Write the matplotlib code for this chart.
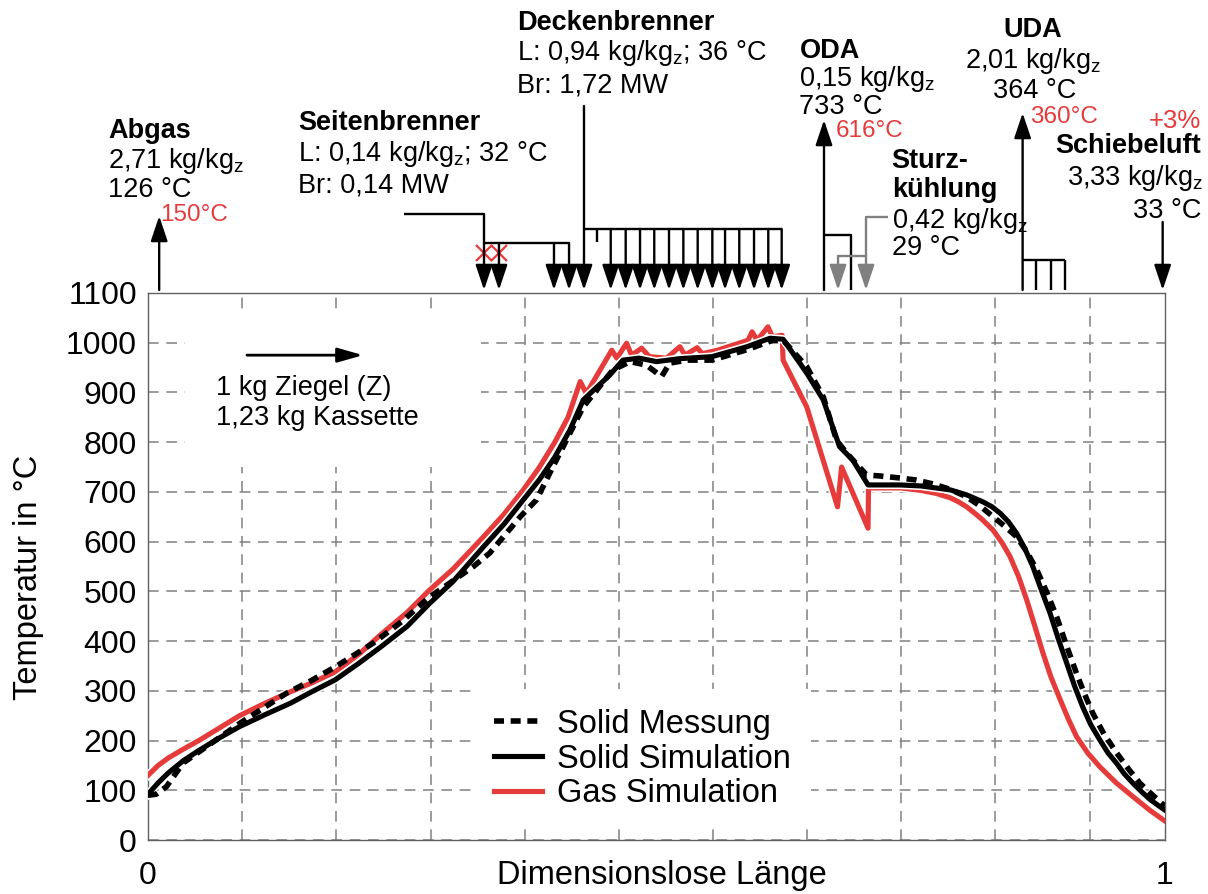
import numpy as np
import matplotlib.pyplot as plt
import matplotlib.patheffects as pe
from matplotlib.patches import Rectangle

plt.rcParams['font.family'] = ['Liberation Sans', 'DejaVu Sans']
plt.rcParams['mathtext.default'] = 'regular'

# --- temperature profiles along the kiln (dimensionless length, °C) ---
gas_x = [0, 0.01, 0.02, 0.035, 0.05, 0.07, 0.09, 0.115, 0.14, 0.16, 0.184, 0.207,
         0.23, 0.255, 0.277, 0.30, 0.33, 0.35, 0.369, 0.385, 0.40, 0.413,
         0.425, 0.431, 0.456, 0.461, 0.4706, 0.4755, 0.4854, 0.493, 0.51, 0.523,
         0.528, 0.54, 0.545, 0.56, 0.575, 0.59, 0.594, 0.599, 0.6096, 0.614,
         0.6235, 0.6245, 0.6477, 0.678, 0.682, 0.708, 0.7085, 0.74, 0.76, 0.775,
         0.789, 0.797, 0.805, 0.813, 0.82, 0.831, 0.84, 0.8476, 0.856, 0.864,
         0.872, 0.88, 0.888, 0.897, 0.905, 0.913, 0.924, 0.936, 0.952, 0.9686,
         0.985, 1.0]
gas_t = [130, 150, 165, 183, 200, 225, 250, 275, 298, 315, 338, 373,
         415, 458, 503, 545, 610, 655, 704, 750, 800, 850,
         922, 898, 985, 969, 999, 975, 989, 972, 969, 992,
         975, 990, 978, 985, 995, 1005, 1022, 1005, 1032, 1012,
         1015, 965, 871, 670, 750, 627, 708, 708, 703, 697,
         688, 680, 670, 657, 645, 623, 597, 570, 530, 483,
         430, 376, 327, 282, 243, 208, 175, 147, 115, 87,
         60, 38]

sim_x = [0, 0.01, 0.02, 0.035, 0.05, 0.07, 0.09, 0.115, 0.14, 0.16, 0.184, 0.207,
         0.23, 0.255, 0.277, 0.30, 0.33, 0.35, 0.369, 0.385, 0.40, 0.415,
         0.428, 0.454, 0.467, 0.483, 0.50, 0.523, 0.5546, 0.589, 0.6116, 0.6245,
         0.6477, 0.664, 0.680, 0.693, 0.708, 0.7394, 0.76, 0.789, 0.805, 0.821,
         0.83, 0.838, 0.846, 0.854, 0.862, 0.870, 0.878, 0.887, 0.895, 0.9033,
         0.911, 0.919, 0.927, 0.936, 0.944, 0.9525, 0.96, 0.9686, 0.977, 0.985,
         0.993, 1.0]
sim_t = [92, 115, 135, 160, 180, 205, 228, 252, 275, 297, 322, 355,
         390, 430, 476, 520, 590, 635, 684, 725, 770, 825,
         885, 935, 965, 969, 962, 968, 972, 992, 1009, 1007,
         939, 885, 791, 764, 714, 714, 712, 704, 694, 680,
         670, 657, 640, 617, 587, 550, 505, 456, 405, 356,
         310, 268, 232, 201, 175, 154, 133, 114, 97, 82,
         70, 60]

mess_x = [0, 0.008, 0.018, 0.0346, 0.0577, 0.0905, 0.136, 0.16, 0.184, 0.2215,
          0.25, 0.277, 0.287, 0.32, 0.336, 0.366, 0.382, 0.398, 0.408, 0.418,
          0.428, 0.457, 0.474, 0.49, 0.505, 0.513, 0.53, 0.5546, 0.589, 0.6145,
          0.6245, 0.6477, 0.664, 0.677, 0.687, 0.7066, 0.72, 0.7394, 0.755,
          0.772, 0.789, 0.805, 0.818, 0.831, 0.843, 0.854, 0.864, 0.874, 0.884,
          0.8935, 0.903, 0.913, 0.921, 0.929, 0.94, 0.9525, 0.964, 0.9754,
          0.988, 1.0]
mess_t = [90, 92, 107, 155, 188, 235, 295, 320, 348, 396,
          440, 489, 503, 550, 577, 650, 684, 750, 790, 831,
          871, 945, 962, 955, 932, 959, 965, 965, 986, 1005,
          1005, 952, 891, 804, 778, 734, 732, 728, 724,
          716, 705, 690, 672, 650, 630, 610, 580, 543, 497,
          449, 392, 335, 293, 255, 213, 175, 143, 114,
          90, 68]

# --- burner / air positions along the kiln ---
abgas_x = 0.011
seiten_x = [0.3304, 0.3451, 0.3992, 0.4140]
seiten_off = [0.3304, 0.3451]
decken_main_x = 0.4287
decken_stub_x = 0.4415
decken_x = [0.455, 0.4697, 0.4838, 0.4978, 0.5123, 0.5264, 0.5405, 0.5549,
            0.5674, 0.5814, 0.5959, 0.6099, 0.6231]
oda_x = [0.6647, 0.6913]
sturz_x = [0.6785, 0.706]
uda_x = [0.86, 0.8736, 0.8875, 0.9013]
schiebe_x = 0.9977

grid_step = 1 / 10.8
red = '#e63b3b'
gray = '#808080'

fig = plt.figure(figsize=(12.08, 8.94), dpi=100)
ax = fig.add_axes([148 / 1208, 1 - 840 / 894, 1017 / 1208, 547 / 894])

ax.set_xlim(0, 1)
ax.set_ylim(0, 1100)
ax.set_xticks([0, 1])
ax.set_xticklabels(['0', '1'])
ax.set_xticks(np.arange(1, 11) * grid_step, minor=True)
ax.set_yticks(np.arange(0, 1101, 100))
ax.tick_params(axis='both', which='both', length=0, labelsize=23)
ax.tick_params(axis='x', pad=15)
ax.tick_params(axis='y', pad=8)
ax.grid(True, which='minor', axis='x', color=gray, lw=1.1, ls=(0, (7, 5)))
ax.grid(True, which='major', axis='y', color=gray, lw=1.1, ls=(0, (7, 5)))
ax.set_axisbelow(True)
for s in ax.spines.values():
    s.set_color('#606060')
    s.set_linewidth(1.0)

ax.set_xlabel('Dimensionslose Länge', fontsize=23.5)
ax.xaxis.set_label_coords(0.505, -0.037)
ax.set_ylabel('Temperatur in °C', fontsize=23.5)
ax.yaxis.set_label_coords(-0.102, 0.48)

# white box behind the brick note
ax.add_patch(Rectangle((0.036, 750), 0.291, 310, facecolor='white',
                       edgecolor='none', zorder=1.5))

halo = [pe.Stroke(linewidth=6, foreground='white'), pe.Normal()]
l_gas, = ax.plot(gas_x, gas_t, color=red, lw=3.7, zorder=3,
                 path_effects=halo)
l_sim, = ax.plot(sim_x, sim_t, color='black', lw=3.7, zorder=4,
                 path_effects=halo)
l_mess, = ax.plot(mess_x, mess_t, color='black', lw=4, ls=(0, (1.8, 1.2)),
                  zorder=5)

leg = ax.legend([l_mess, l_sim, l_gas],
                ['Solid Messung', 'Solid Simulation', 'Gas Simulation'],
                loc='center', bbox_to_anchor=(0.486, 0.148), fontsize=23.5,
                frameon=True, fancybox=False, framealpha=1, edgecolor='none',
                facecolor='white', handlelength=1.5, handletextpad=0.45,
                labelspacing=0.12, borderpad=0.6, borderaxespad=0)
leg.set_zorder(6)

ax.annotate('', xy=(0.2114, 975), xytext=(0.0973, 975),
            arrowprops=dict(arrowstyle='-|>,head_length=1.4,head_width=0.4',
                            color='black', lw=2, shrinkA=0, shrinkB=0,
                            mutation_scale=11), zorder=3)
ax.text(0.0669, 895, '1 kg Ziegel (Z)', fontsize=19.5, zorder=3)
ax.text(0.0669, 834, '1,23 kg Kassette', fontsize=19.5, zorder=3)

# --- kiln schematic above the plot (y in pixels from the top) ---
top = fig.add_axes([148 / 1208, 1 - 293 / 894, 1017 / 1208, 293 / 894])
top.set_xlim(0, 1)
top.set_ylim(293, 0)
top.axis('off')


def arrow(x, y0, y1, color='black'):
    top.annotate('', xy=(x, y1), xytext=(x, y0), annotation_clip=False,
                 arrowprops=dict(arrowstyle='-|>,head_length=1.4,head_width=0.47',
                                 color=color, lw=1.7, shrinkA=0, shrinkB=0,
                                 mutation_scale=11))


def line(xs, ys, color='black'):
    top.plot(xs, ys, color=color, lw=1.7, clip_on=False, solid_capstyle='butt')


fs = 19.5
kgz = r'kg/kg$_{z}$'

# Abgas
arrow(abgas_x, 290, 216)
top.text(-0.0393, 138, 'Abgas', fontsize=fs, weight='bold')
top.text(-0.0393, 168, '2,71 ' + kgz, fontsize=fs)
top.text(-0.0393, 197, '126 °C', fontsize=fs)
top.text(0.0118, 221, '150°C', fontsize=fs - 2, color=red)

# Seitenbrenner
line([0.2517, seiten_x[0], seiten_x[0]], [214, 214, 243])
line([seiten_x[0], seiten_x[-1]], [243, 243])
for x in seiten_x:
    arrow(x, 243, 290)
top.plot(seiten_off, [253, 253], ls='none', marker='x', ms=11, mew=1.6,
         color=red, clip_on=False)
top.text(0.1475, 130, 'Seitenbrenner', fontsize=fs, weight='bold')
top.text(0.1475, 161, 'L: 0,14 ' + kgz + '; 32 °C', fontsize=fs)
top.text(0.1475, 192, 'Br: 0,14 MW', fontsize=fs)

# Deckenbrenner
arrow(decken_main_x, 106, 290)
line([decken_main_x, decken_x[-1]], [229, 229])
line([decken_stub_x, decken_stub_x], [229, 242])
for x in decken_x:
    arrow(x, 229, 290)
top.text(0.3628, 30, 'Deckenbrenner', fontsize=fs, weight='bold')
top.text(0.3628, 60, 'L: 0,94 ' + kgz + '; 36 °C', fontsize=fs)
top.text(0.3628, 92, 'Br: 1,72 MW', fontsize=fs)

# ODA
arrow(oda_x[0], 290, 120)
line([oda_x[0], oda_x[1], oda_x[1]], [235, 235, 290])
top.text(0.6406, 58, 'ODA', fontsize=fs, weight='bold')
top.text(0.6406, 86, '0,15 ' + kgz, fontsize=fs)
top.text(0.6406, 114, '733 °C', fontsize=fs)
top.text(0.6765, 137, '616°C', fontsize=fs - 2, color=red)

# Sturzkühlung
line([0.7276, sturz_x[1], sturz_x[1]], [217, 217, 256], color=gray)
line([sturz_x[0], sturz_x[1]], [256, 256], color=gray)
for x in sturz_x:
    arrow(x, 256, 290, color=gray)
top.text(0.7312, 168, 'Sturz-', fontsize=fs, weight='bold')
top.text(0.7312, 197, 'kühlung', fontsize=fs, weight='bold')
top.text(0.7312, 228, '0,42 ' + kgz, fontsize=fs)
top.text(0.7312, 255, '29 °C', fontsize=fs)

# UDA
arrow(uda_x[0], 290, 113)
line([uda_x[0], uda_x[-1]], [260, 260])
for x in uda_x[1:]:
    line([x, x], [260, 290])
top.text(0.8702, 37, 'UDA', fontsize=fs, weight='bold', ha='center')
top.text(0.8702, 68, '2,01 ' + kgz, fontsize=fs, ha='center')
top.text(0.8722, 98, '364 °C', fontsize=fs, ha='center')
top.text(0.8677, 123, '360°C', fontsize=fs - 2, color=red)

# Schiebeluft
arrow(schiebe_x, 222, 290)
top.text(1.0354, 128, '+3%', fontsize=fs - 1, color=red, ha='right')
top.text(1.0354, 153, 'Schiebeluft', fontsize=fs, weight='bold', ha='right')
top.text(1.0374, 185, '3,33 ' + kgz, fontsize=fs, ha='right')
top.text(1.036, 218, '33 °C', fontsize=fs, ha='right')

fig.savefig('out.png', dpi=100)
